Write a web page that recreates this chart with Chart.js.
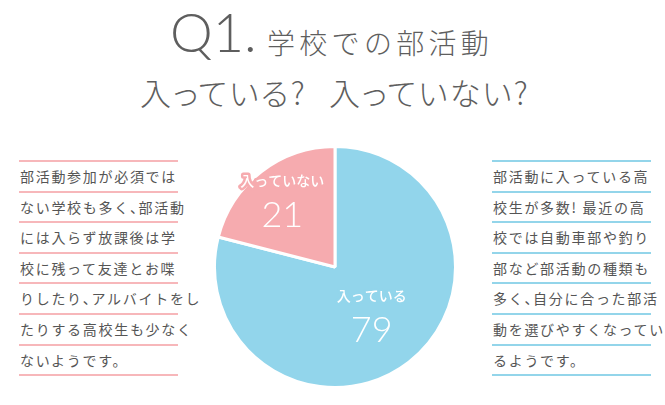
<!DOCTYPE html>
<html>
<head>
<meta charset="utf-8">
<script src="https://cdn.jsdelivr.net/npm/chart.js@4.4.0/dist/chart.umd.min.js"></script>
<style>
  html, body { margin: 0; padding: 0; background: #fff; }
  body { width: 665px; height: 405px; position: relative; overflow: hidden;
         font-family: "Noto Sans CJK JP", sans-serif; color: #555; }
  .q { position: absolute; left: 170px; top: 2px; font-family: Lato, "Noto Sans", sans-serif;
       font-weight: 300; font-size: 54px; color: #5e5e5e; line-height: 60px; }
  .t1 { position: absolute; left: 267px; top: 22px; font-size: 28px; font-weight: 300;
        letter-spacing: 4.3px; color: #5e5e5e; line-height: 40px; white-space: nowrap; }
  .t2 { position: absolute; left: 140px; top: 72px; font-size: 31px;
        font-weight: 300; color: #5e5e5e; line-height: 40px; white-space: nowrap;
        font-feature-settings: "palt"; letter-spacing: 2.2px; }
  .gap { display: inline-block; width: 22px; }
  .note { position: absolute; top: 160px; width: 159px; }
  .note div { height: 28.6px; line-height: 28.6px; border-bottom: 2px solid; font-size: 14px;
              letter-spacing: 1.7px; white-space: nowrap; padding-left: 1px; }
  .note div:first-child { border-top-width: 2px; border-top-style: solid; }
  .left div { border-color: #f7b7ba; }
  .right div { border-color: #93d5ea; }
  .left { left: 19px; }
  .right { left: 492px; }
  .p { font-feature-settings: "halt"; }
  #wrap { position: absolute; left: 213px; top: 145px; width: 244px; height: 244px; }
</style>
</head>
<body>
<div class="q">Q1.</div>
<div class="t1">学校での部活動</div>
<div class="t2">入っている?<span class="gap"></span>入っていない?</div>
<div class="note left" id="leftNote"></div>
<div class="note right" id="rightNote"></div>
<div id="wrap"><canvas id="pie"></canvas></div>
<script>
const categories = ['入っている', '入っていない'];
const values = [79, 21];
const colors = ['#92d5eb', '#f6abaf'];

const leftLines = [
  '部活動参加が必須では',
  'ない学校も多く、部活動',
  'には入らず放課後は学',
  '校に残って友達とお喋',
  'りしたり、アルバイトをし',
  'たりする高校生も少なく',
  'ないようです。'
];
const rightLines = [
  '部活動に入っている高',
  '校生が多数! 最近の高',
  '校では自動車部や釣り',
  '部など部活動の種類も',
  '多く、自分に合った部活',
  '動を選びやすくなってい',
  'るようです。'
];

function fillNote(id, lines) {
  const box = document.getElementById(id);
  lines.forEach(text => {
    const row = document.createElement('div');
    // the comma is set half width in the original
    text.split('、').forEach((part, i) => {
      if (i > 0) {
        const comma = document.createElement('span');
        comma.className = 'p';
        comma.textContent = '、';
        row.appendChild(comma);
      }
      row.appendChild(document.createTextNode(part));
    });
    box.appendChild(row);
  });
}
fillNote('leftNote', leftLines);
fillNote('rightNote', rightLines);

// label radius as a share of the pie radius, per slice
const labelRadius = [0.47, 0.74];

const sliceLabels = {
  id: 'sliceLabels',
  afterDatasetsDraw(chart) {
    const ctx = chart.ctx;
    const meta = chart.getDatasetMeta(0);
    meta.data.forEach((arc, i) => {
      const mid = (arc.startAngle + arc.endAngle) / 2;
      const r = arc.outerRadius * labelRadius[i];
      const x = arc.x + Math.cos(mid) * r + 2;
      const y = arc.y + Math.sin(mid) * r;
      ctx.save();
      ctx.textAlign = 'center';
      ctx.textBaseline = 'middle';
      ctx.lineJoin = 'round';
      ctx.font = '500 14px "Noto Sans CJK JP"';
      ctx.strokeStyle = colors[i];
      ctx.lineWidth = 5;
      ctx.strokeText(categories[i], x, y - 16);
      ctx.fillStyle = '#fff';
      ctx.fillText(categories[i], x, y - 16);
      ctx.font = '300 36px Lato, "Noto Sans"';
      ctx.fillText(String(values[i]), x, y + 19);
      ctx.restore();
    });
  }
};

new Chart(document.getElementById('pie').getContext('2d'), {
  type: 'pie',
  data: {
    labels: categories,
    datasets: [{
      data: values,
      backgroundColor: colors,
      borderColor: '#fff',
      borderWidth: 3,
      hoverOffset: 0
    }]
  },
  options: {
    responsive: true,
    maintainAspectRatio: false,
    animation: false,
    events: [],
    layout: { padding: 0 },
    plugins: {
      legend: { display: false },
      tooltip: { enabled: false }
    }
  },
  plugins: [sliceLabels]
});
</script>
</body>
</html>
